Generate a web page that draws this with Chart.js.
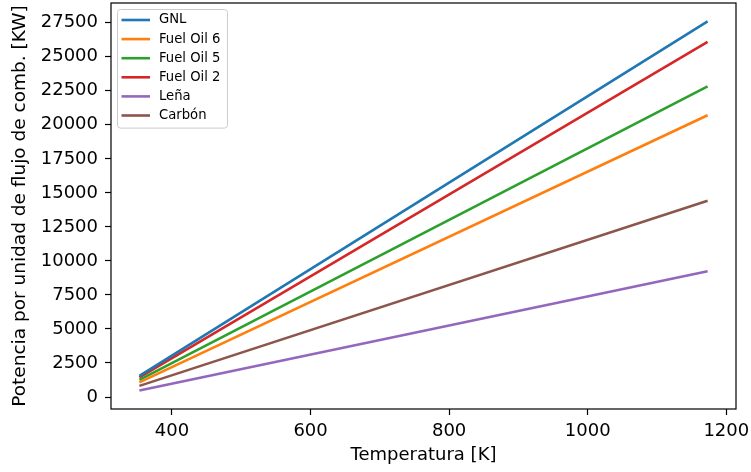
<!DOCTYPE html>
<html>
<head>
<meta charset="utf-8">
<script src="https://cdn.jsdelivr.net/npm/chart.js@4/dist/chart.umd.min.js"></script>
<style>
  html, body { margin: 0; padding: 0; background: #fff; }
  #wrap { width: 751px; height: 472px; position: relative; }
</style>
</head>
<body>
<div id="wrap"><canvas id="c" width="751" height="472"></canvas></div>
<script>
// ---- Data ----
const temperatures = [353, 1173];            // K
const seriesNames = ['GNL', 'Fuel Oil 6', 'Fuel Oil 5', 'Fuel Oil 2', 'Leña', 'Carbón'];
const gnl       = [1560, 27600];
const fuelOil6  = [1080, 20700];
const fuelOil5  = [1260, 22820];
const fuelOil2  = [1450, 26090];
const lena      = [474, 9243];
const carbon    = [820, 14420];
const seriesValues = [gnl, fuelOil6, fuelOil5, fuelOil2, lena, carbon];
const seriesColors = ['#1f77b4', '#ff7f0e', '#2ca02c', '#d62728', '#9467bd', '#8c564b'];
const xTicks = [400, 600, 800, 1000, 1200];
const yTicks = [0, 2500, 5000, 7500, 10000, 12500, 15000, 17500, 20000, 22500, 25000, 27500];
const xTitle = 'Temperatura [K]';
const yTitle = 'Potencia por unidad de flujo de comb. [KW]';

const FONT = 'DejaVu Sans';

const datasets = seriesNames.map((name, i) => ({
  label: name,
  data: temperatures.map((t, j) => ({ x: t, y: seriesValues[i][j] })),
  borderColor: seriesColors[i],
  backgroundColor: seriesColors[i],
  borderWidth: 2.6,
  pointRadius: 0,
  fill: false,
  tension: 0
}));

const frame = {
  id: 'frame',
  afterDraw(chart) {
    const a = chart.chartArea, ctx = chart.ctx;
    ctx.save();
    ctx.strokeStyle = '#000';
    ctx.lineWidth = 1.2;
    ctx.strokeRect(a.left, a.top, a.right - a.left, a.bottom - a.top);
    ctx.restore();
  }
};

const innerLegend = {
  id: 'innerLegend',
  afterDatasetsDraw(chart) {
    const ctx = chart.ctx, a = chart.chartArea;
    const ds = chart.data.datasets;
    const fontSize = 13.2;
    ctx.save();
    ctx.font = fontSize + 'px "' + FONT + '"';
    const rowH = 19.1;
    const pad = 4;
    const lineLen = 28.5;
    const gap = 9;
    let maxW = 0;
    ds.forEach(d => { maxW = Math.max(maxW, ctx.measureText(d.label).width); });
    const x0 = a.left + 6.5, y0 = a.top + 6.5;
    const w = pad + lineLen + gap + maxW + 7;
    const h = rowH * ds.length + 4;
    const r = 3;
    ctx.beginPath();
    ctx.moveTo(x0 + r, y0);
    ctx.lineTo(x0 + w - r, y0);
    ctx.quadraticCurveTo(x0 + w, y0, x0 + w, y0 + r);
    ctx.lineTo(x0 + w, y0 + h - r);
    ctx.quadraticCurveTo(x0 + w, y0 + h, x0 + w - r, y0 + h);
    ctx.lineTo(x0 + r, y0 + h);
    ctx.quadraticCurveTo(x0, y0 + h, x0, y0 + h - r);
    ctx.lineTo(x0, y0 + r);
    ctx.quadraticCurveTo(x0, y0, x0 + r, y0);
    ctx.closePath();
    ctx.fillStyle = 'rgba(255,255,255,0.8)';
    ctx.fill();
    ctx.strokeStyle = '#cccccc';
    ctx.lineWidth = 1;
    ctx.stroke();
    ds.forEach((d, i) => {
      const cy = y0 + 10.5 + rowH * i;
      ctx.beginPath();
      ctx.strokeStyle = d.borderColor;
      ctx.lineWidth = 2.6;
      ctx.moveTo(x0 + pad, cy);
      ctx.lineTo(x0 + pad + lineLen, cy);
      ctx.stroke();
      ctx.fillStyle = '#000';
      ctx.textBaseline = 'middle';
      ctx.textAlign = 'left';
      ctx.fillText(d.label, x0 + pad + lineLen + gap, cy);
    });
    ctx.restore();
  }
};

new Chart(document.getElementById('c'), {
  type: 'line',
  data: { datasets },
  plugins: [frame, innerLegend],
  options: {
    responsive: false,
    animation: false,
    layout: { padding: { top: 3, right: 15, left: 0, bottom: 0 } },
    plugins: {
      legend: { display: false },
      tooltip: { enabled: false }
    },
    scales: {
      x: {
        type: 'linear',
        min: 312,
        max: 1214,
        afterFit(scale) {
          scale.height = 63;
          scale.paddingLeft = 0; scale.paddingRight = 0;
          scale.paddingTop = 0; scale.paddingBottom = 0;
        },
        afterBuildTicks(scale) { scale.ticks = xTicks.map(v => ({ value: v })); },
        ticks: {
          color: '#000',
          font: { family: FONT, size: 18 },
          padding: 6,
          maxRotation: 0,
          autoSkip: false,
          callback: v => String(v)
        },
        grid: { drawOnChartArea: false, drawTicks: true, tickLength: 6, tickColor: '#000', tickWidth: 1.2 },
        border: { display: false },
        title: {
          display: true,
          text: xTitle,
          color: '#000',
          font: { family: FONT, size: 18 },
          padding: { top: 0, bottom: 6 }
        }
      },
      y: {
        type: 'linear',
        min: -880,
        max: 28950,
        afterFit(scale) {
          scale.width = 111;
          scale.paddingLeft = 0; scale.paddingRight = 0;
          scale.paddingTop = 0; scale.paddingBottom = 0;
        },
        afterBuildTicks(scale) { scale.ticks = yTicks.map(v => ({ value: v })); },
        ticks: {
          color: '#000',
          font: { family: FONT, size: 18 },
          padding: 7,
          autoSkip: false,
          callback: v => String(v)
        },
        grid: { drawOnChartArea: false, drawTicks: true, tickLength: 6, tickColor: '#000', tickWidth: 1.2 },
        border: { display: false },
        title: {
          display: true,
          text: yTitle,
          color: '#000',
          font: { family: FONT, size: 18.5 },
          padding: { top: 9, bottom: 0 }
        }
      }
    }
  }
});
</script>
</body>
</html>
